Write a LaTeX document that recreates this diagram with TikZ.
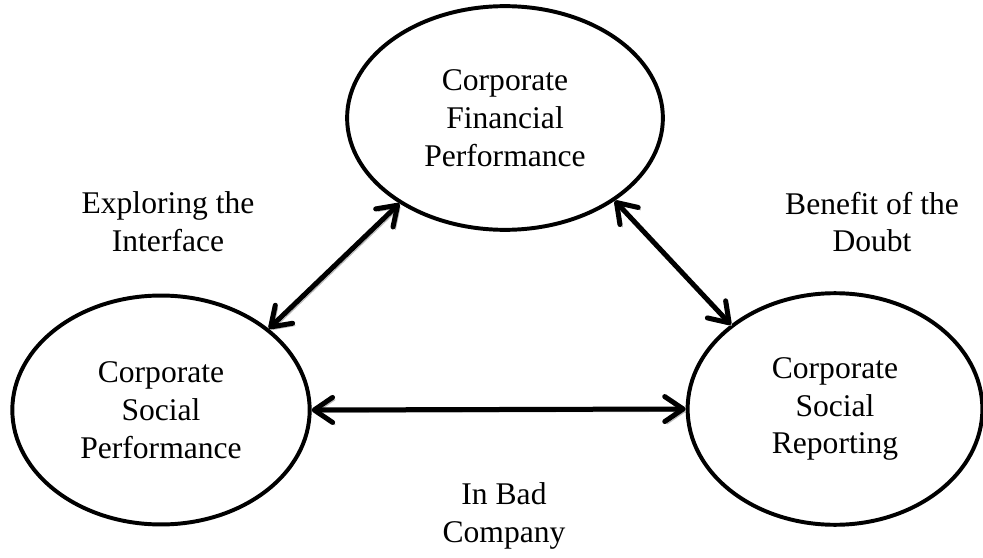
\documentclass[tikz,border=0pt]{standalone}
\usepackage{fontspec}
\setmainfont{Liberation Serif}
\usetikzlibrary{shapes.geometric,arrows.meta}
\colorlet{curveShadow}{gray!55}
\tikzstyle{construct}=[ellipse,draw,line width=1.5pt,align=center,inner sep=0pt,font=\fontsize{12}{14.4}\selectfont]
\tikzstyle{linkLabel}=[align=center,inner sep=0pt,font=\fontsize{12}{14.4}\selectfont]
\tikzstyle{tipBarb}=[{Straight Barb[length=7pt,width=9.5pt,round]}-{Straight Barb[length=7pt,width=9.5pt,round]}]
\tikzstyle{link}=[line width=1.9pt,tipBarb,
        preaction={draw=curveShadow,transform canvas={shift={(0.9pt,-0.9pt)}}}]

\begin{document}
\begin{tikzpicture}[x=0.38pt,y=-0.38pt]
\useasboundingbox (0,0) rectangle (983,558);
        % the three constructs
        \node[construct,minimum width=120pt,minimum height=85pt] 
        (corpFinancial) at (505,118) 
        {Corporate\\Financial\\Performance};
        \node[construct,minimum width=113pt,minimum height=87pt] 
        (corpSocial) at (161,410) 
        {Corporate\\Social\\Performance};
        \node[construct,minimum width=112pt,minimum height=88pt] 
        (corpReporting) at (835,409) 
        {Corporate\\Social\\Reporting};
        % links between them
        \draw[link] (corpSocial.37.8) -- (corpFinancial.219.8);
        \draw[link] (corpFinancial.323.4) -- (corpReporting.141.5);
        \draw[link] (corpSocial.east) -- (corpReporting.west);
        % labels
        \node[linkLabel] (lblExplore) at (168,222) 
        {Exploring the\\Interface};
        \node[linkLabel] (lblBenefit) at (872,222) 
        {Benefit of the\\Doubt};
        \node[linkLabel] (lblBad) at (504,516) 
        {In Bad\\Company};
\end{tikzpicture}
\end{document}
